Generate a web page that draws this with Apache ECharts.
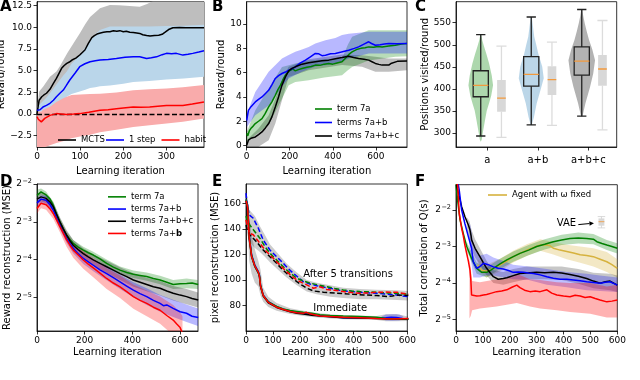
<!DOCTYPE html>
<html><head><meta charset="utf-8">
<script src="https://cdn.jsdelivr.net/npm/echarts@6/dist/echarts.min.js"></script>
<style>html,body{margin:0;padding:0;background:#fff}#c{width:640px;height:380px}</style>
</head><body><div id="c"></div>
<script>
// ---------------- DATA ----------------
// Panel A  (learning iteration, reward/round)
const aMcts = [[0,0],[3,1.0],[5,1.6],[11,2.0],[16,2.2],[22,2.4],[30,2.85],[38,3.54],[45,4.12],[51,4.7],[57,5.27],[63,5.6],[69,5.85],[75,6.0],[81,6.23],[90,6.45],[99,6.81],[105,7.1],[111,7.39],[119,8.16],[127,8.81],[133,9.05],[139,9.23],[147,9.35],[154,9.43],[162,9.5],[169,9.5],[177,9.6],[185,9.55],[192,9.62],[200,9.5],[207,9.55],[215,9.43],[223,9.4],[231,9.35],[238,9.3],[245,9.15],[254,9.05],[262,9.0],[272,9.05],[282,9.1],[290,9.2],[297,9.45],[305,9.75],[315,9.96],[330,9.97],[345,9.96],[360,9.96],[375,9.96],[387,9.96]];
const aStep = [[0,0.45],[7,0.5],[15,0.85],[22,1.0],[30,1.24],[38,1.6],[45,2.0],[53,2.4],[61,2.77],[68,3.3],[76,3.93],[88,4.7],[99,5.46],[111,5.8],[123,6.04],[135,6.15],[146,6.23],[165,6.3],[184,6.4],[204,6.55],[223,6.62],[238,6.62],[254,6.42],[265,6.5],[277,6.6],[290,6.85],[300,7.0],[312,6.95],[323,7.0],[338,6.8],[350,6.9],[361,7.0],[375,7.15],[387,7.3]];
const aHabit = [[0,-0.3],[3,-0.6],[5,-0.75],[10,-0.9],[14,-0.8],[18,-0.5],[25,-0.3],[30,-0.15],[45,0.05],[55,0.02],[69,-0.05],[85,0.0],[99,0.05],[120,0.2],[146,0.43],[165,0.5],[184,0.62],[200,0.7],[223,0.81],[240,0.78],[261,0.8],[280,0.9],[300,1.0],[320,0.98],[338,1.0],[360,1.15],[387,1.4]];
const aMctsBand = [[0,-0.5,0.5],[5,0.3,2.6],[15,0.6,3.2],[30,1.0,4.3],[45,1.5,4.9],[53,2.0,5.5],[70,2.8,7.0],[85,3.4,8.2],[99,4.0,9.3],[112,5.0,10.4],[123,5.6,11.2],[146,6.2,12.2],[169,6.4,12.58],[190,6.5,12.55],[215,6.4,12.47],[238,6.3,12.38],[255,6.2,12.7],[275,6.2,13.2],[300,6.5,13.5],[387,7.0,13.5]];
const aStepBand = [[0,0.2,0.8],[10,0.3,1.3],[20,0.2,1.8],[30,0.0,2.4],[45,0.5,3.4],[60,1.4,4.4],[69,2.0,4.9],[80,2.3,5.8],[99,2.6,6.8],[112,2.8,7.7],[123,3.0,8.5],[135,3.1,9.2],[146,3.2,9.7],[169,3.3,10.1],[200,3.5,10.1],[223,3.7,10.1],[260,3.8,10.1],[300,4.0,10.15],[340,4.1,10.2],[387,4.3,10.3]];
const aHabitBand = [[0,-4,0.2],[10,-4,0.3],[14,-3.9,0.5],[30,-3.6,0.85],[45,-3.35,1.4],[60,-3.15,1.8],[69,-3.0,2.0],[80,-2.8,2.2],[100,-2.6,2.25],[123,-2.4,2.3],[146,-2.1,2.35],[184,-1.8,2.5],[223,-1.5,2.75],[261,-1.3,2.85],[300,-1.1,2.95],[338,-0.9,3.1],[387,-0.5,3.35]];
const aTicksX = [0,100,200,300];
const aTicksY = [-2.5,0,2.5,5,7.5,10,12.5];

// Panel B
const bGreen = [[0,1.0],[5,0.8],[12,1.2],[19,1.4],[30,1.6],[40,1.81],[55,2.0],[71,2.22],[85,2.6],[102,3.18],[117,3.6],[133,4.14],[145,4.6],[157,4.97],[168,5.4],[180,5.79],[192,6.05],[203,6.2],[214,6.3],[226,6.15],[240,6.25],[257,6.34],[280,6.45],[300,6.5],[319,6.62],[340,6.6],[360,6.7],[381,6.76],[400,6.7],[420,6.8],[443,6.89],[460,7.2],[475,7.5],[490,7.71],[510,7.9],[530,8.0],[550,8.05],[567,8.12],[590,8.1],[610,8.15],[629,8.12],[660,8.2],[691,8.26],[720,8.35],[745,8.4]];
const bBlue = [[0,2.08],[8,2.9],[20,3.2],[40,3.59],[55,3.8],[71,4.0],[85,4.25],[102,4.55],[117,5.0],[133,5.52],[148,5.75],[164,5.93],[180,6.05],[195,6.2],[210,6.3],[226,6.48],[250,6.8],[273,7.03],[296,7.3],[319,7.58],[335,7.55],[350,7.4],[366,7.44],[390,7.55],[412,7.58],[440,7.7],[474,7.85],[500,8.0],[520,8.12],[545,8.35],[567,8.54],[580,8.4],[598,8.26],[620,8.3],[640,8.35],[660,8.4],[700,8.38],[745,8.4]];
const bBlack = [[0,0.02],[8,0.44],[20,0.6],[40,0.71],[55,0.9],[71,1.12],[87,1.45],[102,1.81],[117,2.36],[133,3.18],[148,4.0],[164,4.97],[180,5.65],[195,6.14],[210,6.35],[226,6.48],[257,6.7],[288,6.82],[319,6.9],[350,6.98],[381,7.03],[412,7.15],[443,7.24],[474,7.35],[497,7.25],[520,7.17],[545,7.1],[567,7.03],[582,6.9],[598,6.76],[614,6.68],[629,6.62],[660,6.62],[670,6.75],[676,6.9],[700,6.93],[745,6.95]];
const bGreenBand = [[0,0.3,1.1],[40,0.86,2.9],[102,1.68,4.7],[133,2.77,5.6],[164,3.86,6.47],[195,4.97,6.6],[226,5.24,6.75],[288,5.38,7.0],[360,5.6,7.1],[443,5.79,7.17],[470,6.2,8.3],[490,6.47,8.95],[567,7.0,9.5],[691,7.3,9.5],[745,7.35,9.5]];
const bBlueBand = [[0,1.5,2.6],[40,2.5,4.4],[102,3.3,6.07],[164,4.84,7.17],[195,5.52,7.45],[226,5.8,7.72],[257,6.07,7.9],[288,6.3,8.12],[319,6.5,8.4],[366,6.6,8.67],[412,6.76,8.85],[443,6.9,9.09],[474,7.17,9.2],[567,7.58,9.36],[660,7.58,9.36],[745,7.58,9.36]];
const bBlackBand = [[0,-0.1,0.44],[55,-0.1,1.4],[102,0.44,2.5],[133,1.81,3.86],[164,3.73,5.4],[195,5.65,6.48],[288,6.2,7.1],[443,6.62,7.5],[536,6.48,7.44],[598,6.07,7.3],[660,6.07,7.17],[745,6.2,7.17]];
const bTicksX = [0,200,400,600];
const bTicksY = [0,2,4,6,8,10];

// Panel C  (box: min, Q1, median, Q3, max)
const cCats = ['a','a+b','a+b+c'];
const cBox = [[293,382,408,441,523],[318,406,433,473,563],[338,431,463,495,580]];
const cGrayBox = [[290,348,379,420,497],[317,386,421,451,506],[307,407,445,477,555]];
const cViolinA = [[280,0],[285,1],[300,2],[329,4.3],[350,6],[367,8.3],[385,10.5],[408,12.3],[430,11],[458,8.3],[480,5.5],[496,3.3],[510,1.5],[522,0.5]];
const cViolinAB = [[317,0],[320,0.8],[336,2.7],[367,5.5],[395,9],[424,12.5],[450,11],[480,7],[500,5],[518,3],[540,1.8],[563,0.5]];
const cViolinABC = [[337,0],[340,1],[367,3.7],[404,8.3],[435,11.5],[465,13.3],[490,10.5],[511,7.3],[530,5],[549,3],[565,1.5],[580,0.5]];
const cTicksY = [300,350,400,450,500,550];

// Panel D  (log2 of reward reconstruction MSE)
const dGreen = [[0,-2.3],[3,-2.25],[17,-2.21],[38,-2.29],[55,-2.4],[68,-2.56],[82,-2.8],[96,-3.0],[110,-3.2],[124,-3.35],[138,-3.47],[152,-3.57],[173,-3.67],[194,-3.75],[215,-3.82],[236,-3.88],[264,-3.98],[292,-4.1],[320,-4.2],[348,-4.28],[376,-4.34],[404,-4.39],[432,-4.42],[460,-4.45],[488,-4.5],[516,-4.54],[544,-4.6],[571,-4.66],[600,-4.64],[627,-4.63],[650,-4.62],[676,-4.66]];
const dBlue = [[0,-2.5],[3,-2.47],[17,-2.40],[38,-2.43],[55,-2.55],[68,-2.69],[82,-2.9],[96,-3.09],[110,-3.28],[124,-3.44],[138,-3.58],[152,-3.7],[173,-3.85],[194,-3.97],[215,-4.06],[236,-4.15],[264,-4.27],[292,-4.37],[320,-4.48],[348,-4.59],[376,-4.7],[404,-4.81],[432,-4.9],[460,-4.98],[488,-5.08],[516,-5.16],[530,-5.22],[544,-5.2],[571,-5.29],[600,-5.38],[627,-5.42],[650,-5.5],[676,-5.53]];
const dBlack = [[0,-2.4],[3,-2.38],[17,-2.34],[38,-2.38],[55,-2.48],[68,-2.6],[82,-2.8],[96,-3.0],[110,-3.18],[124,-3.35],[138,-3.5],[152,-3.62],[173,-3.74],[194,-3.84],[215,-3.93],[236,-4.01],[264,-4.1],[292,-4.19],[320,-4.28],[348,-4.37],[376,-4.45],[404,-4.54],[432,-4.6],[460,-4.66],[488,-4.72],[516,-4.76],[544,-4.83],[571,-4.89],[600,-4.94],[627,-4.98],[650,-5.03],[676,-5.07]];
const dRed = [[0,-2.65],[3,-2.6],[17,-2.51],[38,-2.55],[55,-2.66],[68,-2.78],[82,-2.95],[96,-3.13],[110,-3.3],[124,-3.48],[138,-3.62],[152,-3.75],[173,-3.88],[194,-4.01],[215,-4.12],[236,-4.22],[264,-4.36],[292,-4.5],[320,-4.62],[348,-4.72],[376,-4.85],[404,-4.98],[432,-5.08],[460,-5.16],[488,-5.26],[516,-5.34],[544,-5.48],[571,-5.6],[585,-5.7],[600,-5.8],[610,-5.95]];
const dGreenBand = [[0,-2.4,-2.15],[17,-2.3,-2.12],[38,-2.38,-2.2],[68,-2.66,-2.46],[96,-3.1,-2.9],[124,-3.44,-3.26],[152,-3.66,-3.48],[194,-3.84,-3.66],[236,-3.97,-3.79],[292,-4.2,-4.0],[348,-4.38,-4.18],[404,-4.49,-4.29],[460,-4.56,-4.34],[516,-4.65,-4.43],[571,-4.78,-4.54],[627,-4.76,-4.5],[676,-4.78,-4.54]];
const dBlackBand = [[0,-2.52,-2.28],[17,-2.46,-2.22],[38,-2.5,-2.26],[68,-2.72,-2.48],[96,-3.12,-2.88],[124,-3.48,-3.22],[152,-3.76,-3.48],[194,-3.98,-3.7],[236,-4.16,-3.86],[292,-4.35,-4.03],[348,-4.54,-4.2],[404,-4.72,-4.36],[460,-4.84,-4.48],[516,-4.95,-4.57],[571,-5.08,-4.7],[627,-5.18,-4.78],[676,-5.27,-4.87]];
const dBlueBand = [[0,-2.6,-2.4],[17,-2.5,-2.3],[38,-2.54,-2.32],[68,-2.8,-2.58],[96,-3.2,-2.98],[124,-3.56,-3.32],[152,-3.84,-3.56],[194,-4.12,-3.82],[236,-4.31,-3.99],[292,-4.55,-4.19],[348,-4.78,-4.4],[404,-5.0,-4.6],[460,-5.2,-4.76],[516,-5.38,-4.94],[571,-5.52,-5.06],[627,-5.65,-5.19],[676,-5.76,-5.3]];
const dRedBand = [[0,-2.78,-2.52],[17,-2.64,-2.38],[38,-2.68,-2.42],[68,-2.92,-2.64],[96,-3.28,-2.98],[124,-3.66,-3.3],[152,-3.95,-3.55],[194,-4.24,-3.78],[236,-4.47,-3.97],[292,-4.78,-4.22],[348,-5.02,-4.42],[404,-5.3,-4.66],[460,-5.5,-4.82],[516,-5.7,-4.98],[571,-6.0,-5.2],[600,-6.2,-5.4],[610,-6.2,-5.5]];
const dTicksX = [0,200,400,600];
const dTicksY = [-5,-4,-3,-2];

// Panel E  (pixel reconstruction MSE)
const eBlue = [[0,163],[6,158.7],[12,135],[21,119.6],[33,111.8],[46,106.6],[50,104],[54,96.2],[64,88.4],[83,83.1],[114,79.2],[139,77.3],[164,75.8],[189,74.8],[213,74],[244,73],[275,72.2],[313,71.5],[362,70.6],[424,70.4],[486,70.2],[520,70.6],[540,71],[560,70.8],[580,70],[604,69.4]];
const eGreen = [[0,163],[6,158],[12,134],[21,119],[33,111],[46,106],[50,103.5],[54,96],[64,88],[83,83],[114,79.4],[139,77.5],[164,76.2],[189,75.5],[213,74.8],[244,74],[275,73],[313,72.4],[362,72],[424,71.6],[486,71],[520,70],[560,69.8],[604,69.8]];
const eRed = [[0,162],[6,157],[12,133],[21,118.5],[33,111],[46,106],[50,103],[54,95.5],[64,88],[83,82.6],[114,78.8],[139,77],[164,75.5],[189,74.5],[213,74],[225,74.8],[238,73.6],[275,72],[313,71.5],[362,71],[424,70.6],[486,70],[540,69.6],[604,70]];
const eBlack = [[0,162],[6,156],[12,132],[21,118],[33,110.5],[46,105.5],[50,102.5],[54,95],[64,87.5],[83,82.3],[114,78.6],[139,76.7],[164,75.2],[189,74.1],[213,73.4],[244,72.6],[275,72],[313,71.4],[362,70.6],[424,70.3],[486,70],[540,69.6],[604,69.3]];
const eBlueD = [[0,168],[3,161.3],[12,150.9],[27,148.3],[46,140.5],[64,131.3],[89,123.5],[114,118.3],[139,113.1],[157,109],[176,105.3],[195,102],[213,98.8],[238,97],[263,95.6],[288,94.5],[313,93.6],[338,92.5],[362,91.5],[393,91],[424,90.5],[455,90],[486,89.7],[520,89],[561,88.4],[580,87.6],[604,87]];
const eGreenD = [[0,150],[3,148],[14,143],[33,137.8],[52,132.6],[71,126.1],[89,121],[114,115.7],[132,111.8],[151,108],[170,104.6],[189,101.5],[213,99.3],[238,97.6],[270,96.2],[300,94.9],[330,93.5],[362,92.3],[393,91.5],[424,91],[455,90.8],[486,90.5],[520,90],[561,89.7],[604,88.9]];
const eRedD = [[0,147],[3,144],[14,136.6],[27,135.4],[52,128.7],[71,123.5],[89,119.6],[114,114.4],[132,110.5],[151,106.6],[170,103.2],[189,100.1],[208,98],[226,96.2],[238,95],[251,93.6],[263,94.2],[275,94.8],[288,93.8],[300,92.6],[330,92],[362,91],[393,90.2],[424,89.7],[455,90],[486,90.5],[520,90.6],[561,90.5],[604,88.9]];
const eBlackD = [[0,143],[3,140.5],[14,135.4],[39,130],[64,123.5],[89,118.3],[114,113.1],[132,109],[151,105.3],[170,101.8],[189,98.8],[208,96],[226,93.6],[251,91.5],[288,90.5],[338,89.7],[387,89],[437,88.4],[486,87.9],[524,87.1],[545,87.5],[561,88.4],[604,87.9]];
const eImmBand = [[0,140,168],[6,140,165],[12,115,150],[21,105,135],[33,98,124],[46,95,115],[54,88,108],[64,83,94],[83,79,87],[114,76,82],[164,73.5,78],[213,72,76],[275,70.5,74],[362,69.3,72.5],[486,68.8,72],[520,67.8,73.2],[560,67.8,73.5],[604,68,71.5]];
const eDashBand = [[0,140,168],[12,130,155],[33,125,150],[52,122,142],[71,118,135],[89,114,128],[114,109,122],[151,102,113],[189,96,106],[226,91,100],[263,89,98],[313,87,96],[362,86,94],[424,85,93],[486,85,92.5],[561,84.5,92],[604,84,91.5]];
const eBlueBand = [[505,69.5,71.5],[520,68.5,73],[545,68.3,73.2],[570,68.5,73],[585,69.3,71.8]];
const eTicksX = [0,100,200,300,400,500,600];
const eTicksY = [80,100,120,140,160];

// Panel F  (log2 of total correlation)
const fRed = [[0,-1.25],[6,-1.31],[12,-2.09],[21,-2.5],[27,-2.7],[33,-2.96],[40,-3.2],[46,-3.4],[52,-3.65],[55,-3.9],[58,-4.33],[64,-4.38],[77,-4.36],[89,-4.35],[102,-4.33],[114,-4.32],[132,-4.28],[151,-4.24],[170,-4.22],[189,-4.19],[208,-4.12],[226,-4.06],[238,-4.13],[255,-4.2],[275,-4.24],[295,-4.22],[313,-4.24],[338,-4.19],[356,-4.28],[375,-4.33],[400,-4.36],[424,-4.38],[443,-4.34],[462,-4.36],[480,-4.4],[499,-4.38],[518,-4.43],[536,-4.47],[561,-4.52],[580,-4.5],[600,-4.47]];
const fBlue = [[0,-1.0],[6,-1.2],[12,-1.45],[21,-2.0],[33,-2.37],[46,-2.73],[58,-3.05],[64,-3.42],[77,-3.6],[89,-3.55],[102,-3.46],[120,-3.5],[139,-3.56],[157,-3.6],[176,-3.62],[195,-3.66],[213,-3.71],[232,-3.7],[251,-3.71],[270,-3.73],[288,-3.74],[313,-3.78],[338,-3.83],[362,-3.87],[387,-3.9],[412,-3.9],[437,-3.92],[462,-3.94],[486,-3.97],[511,-3.99],[536,-4.01],[555,-3.98],[573,-3.97],[600,-4.06]];
const fBlack = [[0,-1.1],[3,-1.35],[12,-1.63],[21,-1.91],[33,-2.18],[46,-2.41],[52,-2.55],[56,-2.7],[58,-2.82],[71,-3.05],[89,-3.28],[102,-3.45],[114,-3.6],[127,-3.72],[139,-3.83],[157,-3.9],[176,-3.88],[189,-3.86],[213,-3.8],[238,-3.74],[263,-3.73],[300,-3.71],[330,-3.72],[362,-3.71],[393,-3.73],[424,-3.77],[455,-3.82],[486,-3.88],[511,-3.95],[536,-4.01],[555,-3.97],[573,-3.95],[600,-4.06]];
const fGreen = [[0,-1.3],[6,-1.73],[15,-2.27],[27,-2.64],[40,-3.0],[58,-3.33],[77,-3.6],[96,-3.71],[114,-3.71],[127,-3.66],[139,-3.6],[164,-3.48],[189,-3.37],[213,-3.28],[238,-3.19],[270,-3.1],[300,-3.0],[330,-2.94],[362,-2.87],[393,-2.82],[424,-2.78],[455,-2.77],[486,-2.78],[511,-2.8],[524,-2.87],[543,-2.92],[561,-2.96],[580,-3.0],[600,-3.05]];
const fYellow = [[80,-3.5],[96,-3.65],[114,-3.68],[139,-3.6],[164,-3.51],[189,-3.4],[213,-3.28],[238,-3.19],[263,-3.1],[288,-3.03],[313,-2.96],[338,-2.96],[350,-2.98],[362,-3.05],[387,-3.1],[412,-3.14],[437,-3.18],[462,-3.23],[486,-3.25],[511,-3.28],[536,-3.35],[561,-3.42],[580,-3.5],[600,-3.6]];
const fRedBand = [[50,-4.98,-3.3],[55,-4.9,-3.6],[60,-4.75,-3.95],[89,-4.7,-3.98],[151,-4.65,-3.9],[189,-4.6,-3.85],[226,-4.55,-3.75],[275,-4.65,-3.9],[313,-4.7,-3.92],[375,-4.75,-3.98],[424,-4.8,-4.0],[499,-4.85,-4.0],[561,-4.95,-4.1],[600,-4.95,-4.05]];
const fBlueBand = [[50,-3.2,-2.3],[58,-3.5,-2.6],[64,-3.85,-3.0],[89,-3.85,-3.25],[114,-3.8,-3.2],[139,-3.8,-3.3],[176,-3.85,-3.4],[213,-3.9,-3.5],[270,-3.92,-3.55],[338,-4.05,-3.62],[412,-4.12,-3.7],[486,-4.2,-3.75],[536,-4.22,-3.8],[600,-4.25,-3.85]];
const fBlackBand = [[40,-2.6,-2.2],[50,-2.8,-2.3],[58,-3.1,-2.55],[71,-3.3,-2.8],[89,-3.5,-3.05],[114,-3.8,-3.4],[139,-4.0,-3.65],[176,-4.05,-3.7],[213,-3.98,-3.62],[263,-3.9,-3.55],[330,-3.9,-3.55],[393,-3.92,-3.55],[455,-4.02,-3.62],[511,-4.15,-3.72],[573,-4.2,-3.75],[600,-4.25,-3.8]];
const fGreenBand = [[40,-3.12,-2.88],[77,-3.75,-3.45],[114,-3.85,-3.57],[164,-3.62,-3.34],[213,-3.42,-3.14],[270,-3.24,-2.96],[330,-3.08,-2.8],[393,-2.96,-2.68],[455,-2.92,-2.62],[511,-2.94,-2.66],[561,-3.1,-2.82],[600,-3.19,-2.91]];
const fYellowBand = [[80,-3.65,-3.35],[114,-3.85,-3.5],[164,-3.68,-3.34],[213,-3.44,-3.12],[263,-3.26,-2.94],[313,-3.12,-2.8],[362,-3.22,-2.88],[412,-3.35,-2.95],[462,-3.45,-3.0],[511,-3.55,-3.05],[561,-3.7,-3.15],[600,-3.85,-3.35]];
const fVaeBox = [541,[-2.49,-2.43,-2.32,-2.23,-2.18]];
const fTicksX = [0,100,200,300,400,500,600];
const fTicksY = [-5,-4,-3,-2];

// ---------------- RENDER ----------------
const FF = 'DejaVu Sans';
const chart = echarts.init(document.getElementById('c'), null, {renderer:'canvas'});

const grids = [
  {left:37, top:1.7, width:167, height:145.3},
  {left:246.7, top:1.7, width:160.3, height:145.3},
  {left:456, top:1.7, width:160.7, height:145.3},
  {left:37, top:184, width:161, height:147},
  {left:246, top:184, width:161.3, height:147},
  {left:456, top:184.7, width:161.3, height:146.3}
].map(g => Object.assign({show:true, borderColor:'#000', borderWidth:0.8, backgroundColor:'transparent', containLabel:false, outerBoundsMode:'none'}, g));

function numFmt(d){ return v => (d ? v.toFixed(d) : String(v)).replace('-', '\u2212'); }
const logFmt = v => '{b|2}{s|\u2212' + Math.round(-v) + '}';
const logRich = {b:{fontSize:9, color:'#000', fontFamily:FF, lineHeight:12, verticalAlign:'middle'}, s:{fontSize:6.5, color:'#000', fontFamily:FF, lineHeight:12, verticalAlign:'top', padding:[0,0,0,0.5]}};

function axis(gi, min, max, ticks, fmt, name, nameGap, extra) {
  const lab = {show:true, customValues:ticks, formatter:fmt, fontSize:9, color:'#000', fontFamily:FF, margin:5};
  if (extra && extra.rich) lab.rich = extra.rich;
  if (extra && extra.fontSize) lab.fontSize = extra.fontSize;
  if (extra && extra.margin) lab.margin = extra.margin;
  return {
    type:'value', gridIndex:gi, min:min, max:max, scale:true,
    name:name, nameLocation:'middle', nameGap:nameGap,
    nameTextStyle:{fontSize:(extra && extra.nameSize) || 10, color:'#000', fontFamily:FF},
    axisLine:{show:true, onZero:false, lineStyle:{color:'#000', width:0.8}},
    axisTick:{show:true, length:3.5, customValues:ticks, lineStyle:{color:'#000', width:0.8}},
    axisLabel:lab,
    splitLine:{show:false}
  };
}

const xAxes = [
  axis(0, 0, 387, aTicksX, numFmt(0), 'Learning iteration', 19),
  axis(1, 0, 745, bTicksX, numFmt(0), 'Learning iteration', 19),
  axis(2, -0.62, 2.562, [0,1,2], v => cCats[Math.round(v)], '', 0, {fontSize:10, margin:8}),
  axis(3, 0, 675, dTicksX, numFmt(0), 'Learning iteration', 16),
  axis(4, 0, 600, eTicksX, numFmt(0), 'Learning iteration', 16),
  axis(5, 0, 600, fTicksX, numFmt(0), 'Learning iteration', 16)
];
const yAxes = [
  axis(0, -3.8, 12.96, aTicksY, numFmt(1), 'Reward/round', 25),
  axis(1, -0.12, 11.84, bTicksY, numFmt(0), 'Reward/round', 19),
  axis(2, 268, 597.7, cTicksY, numFmt(0), 'Positions visited/round', 23),
  axis(3, -5.89, -2.0, dTicksY, logFmt, 'Reward reconstruction (MSE)', 23, {rich:logRich}),
  axis(4, 60.2, 175.1, eTicksY, numFmt(0), 'pixel reconstruction (MSE)', 26),
  axis(5, -5.32, -1.305, fTicksY, logFmt, 'Total correlation of Q(s)', 27, {rich:logRich})
];

const series = [];
function band(gi, data, color, z) {
  series.push({
    type:'custom', xAxisIndex:gi, yAxisIndex:gi, clip:true, silent:true, z:z || 1,
    data:[[data[0][0], data[0][1]]], encode:{x:0, y:1},
    renderItem:(p, api) => {
      const up = data.map(d => api.coord([d[0], d[2]]));
      const lo = data.slice().reverse().map(d => api.coord([d[0], d[1]]));
      return {type:'polygon', shape:{points:up.concat(lo)}, style:{fill:color}};
    }
  });
}
function line(gi, name, data, color, width, z, dash) {
  series.push({
    type:'line', name:name, xAxisIndex:gi, yAxisIndex:gi, data:data, color:color,
    showSymbol:false, symbol:'none', silent:true, z:z || 5, clip:true,
    lineStyle:{color:color, width:width || 1.5, type:dash || 'solid'}, itemStyle:{color:color}
  });
  return series[series.length - 1];
}
function text(gi, x, y, txt, size) {
  series.push({
    type:'custom', xAxisIndex:gi, yAxisIndex:gi, silent:true, z:20, data:[[x, y]], encode:{x:0, y:1},
    renderItem:(p, api) => {
      const c = api.coord([api.value(0), api.value(1)]);
      return {type:'text', x:c[0], y:c[1], style:{text:txt, fontSize:size, fontFamily:FF, fill:'#000', align:'left', verticalAlign:'middle', textAlign:'left', textVerticalAlign:'middle'}};
    }
  });
}

// Panel A
band(0, aMctsBand, '#bebebe', 1);
band(0, aStepBand, '#bad6ea', 2);
band(0, aHabitBand, '#f9abab', 3);
const mcts = line(0, 'MCTS', aMcts, '#000000', 1.5, 6);
mcts.markLine = {silent:true, symbol:'none', animation:false, label:{show:false}, lineStyle:{color:'#000', width:1.4, type:[5,2.5]}, data:[{yAxis:0}]};
line(0, '1 step', aStep, '#0000ff', 1.5, 7);
line(0, 'habit', aHabit, '#ff0000', 1.5, 8);

// Panel B
band(1, bBlackBand, 'rgba(0,0,0,0.25)', 1);
band(1, bGreenBand, 'rgba(0,128,0,0.28)', 2);
band(1, bBlueBand, 'rgba(0,0,255,0.28)', 3);
line(1, 'term 7a', bGreen, '#008000', 1.5, 6);
line(1, 'terms 7a+b', bBlue, '#0000ff', 1.5, 7);
line(1, 'terms 7a+b+c', bBlack, '#000000', 1.5, 8);

// Panel C
const C_MAIN = -0.13, C_GRAY = 0.28, C_UNIT = 1 / 50.5;
const violins = [[cViolinA, 'rgba(60,160,60,0.42)'], [cViolinAB, 'rgba(31,119,180,0.3)'], [cViolinABC, 'rgba(0,0,0,0.3)']];
violins.forEach((vv, i) => {
  series.push({
    type:'custom', xAxisIndex:2, yAxisIndex:2, silent:true, clip:true, z:2,
    data:[[i, vv[0][0][0]]], encode:{x:0, y:1},
    renderItem:(p, api) => {
      const xc = i + C_MAIN;
      const right = vv[0].map(d => api.coord([xc + d[1] * C_UNIT, d[0]]));
      const left = vv[0].slice().reverse().map(d => api.coord([xc - d[1] * C_UNIT, d[0]]));
      return {type:'polygon', shape:{points:right.concat(left)}, style:{fill:vv[1]}};
    }
  });
});
function boxSeries(boxes, off, hw, cw, stroke, fill, wcol, z) {
  series.push({
    type:'custom', xAxisIndex:2, yAxisIndex:2, silent:true, clip:true, z:z,
    data:boxes.map((b, i) => [i].concat(b)), encode:{x:0, y:3},
    renderItem:(p, api) => {
      const xc = api.value(0) + off;
      const mn = api.value(1), q1 = api.value(2), md = api.value(3), q3 = api.value(4), mx = api.value(5);
      const P = (x, y) => api.coord([x, y]);
      const seg = (a, b, col, w) => ({type:'line', shape:{x1:a[0], y1:a[1], x2:b[0], y2:b[1]}, style:{stroke:col, lineWidth:w}});
      const tl = P(xc - hw, q3), br = P(xc + hw, q1);
      return {type:'group', children:[
        seg(P(xc, mn), P(xc, q1), wcol, 1.3),
        seg(P(xc, q3), P(xc, mx), wcol, 1.3),
        seg(P(xc - cw, mn), P(xc + cw, mn), wcol, 1.3),
        seg(P(xc - cw, mx), P(xc + cw, mx), wcol, 1.3),
        {type:'rect', shape:{x:tl[0], y:tl[1], width:br[0] - tl[0], height:br[1] - tl[1]}, style:{fill:fill, stroke:stroke, lineWidth:1.3}},
        seg(P(xc - hw, md), P(xc + hw, md), '#f39a3c', 1.3)
      ]};
    }
  });
}
boxSeries(cBox, C_MAIN, 0.15, 0.092, '#222', 'rgba(255,255,255,0)', '#222', 5);
boxSeries(cGrayBox, C_GRAY, 0.086, 0.1, 'rgba(0,0,0,0)', '#d8d8d8', '#dcdcdc', 4);

// Panel D
band(3, dGreenBand, 'rgba(0,128,0,0.28)', 1);
band(3, dBlackBand, 'rgba(0,0,0,0.25)', 1);
band(3, dBlueBand, 'rgba(0,0,255,0.28)', 1);
band(3, dRedBand, 'rgba(255,0,0,0.28)', 1);
line(3, 'term 7a', dGreen, '#008000', 1.5, 6);
line(3, 'terms 7a+b', dBlue, '#0000ff', 1.5, 7);
line(3, 'terms 7a+b+c', dBlack, '#000000', 1.5, 8);
line(3, 'terms 7a+b*', dRed, '#ff0000', 1.5, 9);

// Panel E
band(4, eDashBand, 'rgba(0,0,0,0.2)', 1);
band(4, eImmBand, 'rgba(0,0,0,0.2)', 1);
band(4, eBlueBand, 'rgba(0,0,255,0.25)', 2);
line(4, 'e-blue', eBlue, '#0000ff', 1.5, 6);
line(4, 'e-black', eBlack, '#000000', 1.5, 7);
line(4, 'e-green', eGreen, '#008000', 1.5, 8);
line(4, 'e-red', eRed, '#ff0000', 1.5, 9);
line(4, 'e-blueD', eBlueD, '#0000ff', 1.5, 6, [5,2.5]);
line(4, 'e-greenD', eGreenD, '#008000', 1.5, 7, [5,2.5]);
line(4, 'e-blackD', eBlackD, '#000000', 1.5, 8, [5,2.5]);
line(4, 'e-redD', eRedD, '#ff0000', 1.5, 9, [5,2.5]);
text(4, 213, 104.8, 'After 5 transitions', 10);
text(4, 250, 78, 'Immediate', 10);

// Panel F
band(5, fYellowBand, 'rgba(214,178,62,0.3)', 1);
band(5, fGreenBand, 'rgba(0,128,0,0.28)', 1);
band(5, fBlackBand, 'rgba(0,0,0,0.22)', 1);
band(5, fBlueBand, 'rgba(0,0,255,0.25)', 1);
band(5, fRedBand, 'rgba(255,0,0,0.3)', 1);
line(5, 'Agent with \u03c9 fixed', fYellow, '#d6b23e', 1.5, 6);
line(5, 'f-green', fGreen, '#008000', 1.5, 7);
line(5, 'f-black', fBlack, '#000000', 1.5, 8);
line(5, 'f-blue', fBlue, '#0000ff', 1.5, 9);
line(5, 'f-red', fRed, '#ff0000', 1.5, 10);
text(5, 374.6, -2.365, 'VAE', 10);
series.push({
  type:'custom', xAxisIndex:5, yAxisIndex:5, silent:true, z:20, data:[[455, -2.40, 513, -2.36]], encode:{x:0, y:1},
  renderItem:(p, api) => {
    const a = api.coord([api.value(0), api.value(1)]), b = api.coord([api.value(2), api.value(3)]);
    const ang = Math.atan2(b[1] - a[1], b[0] - a[0]), L = 4.5, W = 2.2;
    const bx = b[0] - L * Math.cos(ang), by = b[1] - L * Math.sin(ang);
    return {type:'group', children:[
      {type:'line', shape:{x1:a[0], y1:a[1], x2:bx, y2:by}, style:{stroke:'#000', lineWidth:1}},
      {type:'polygon', shape:{points:[[b[0], b[1]], [bx - W * Math.sin(ang), by + W * Math.cos(ang)], [bx + W * Math.sin(ang), by - W * Math.cos(ang)]]}, style:{fill:'#000'}}
    ]};
  }
});
series.push({
  type:'custom', xAxisIndex:5, yAxisIndex:5, silent:true, z:20, data:[[fVaeBox[0]].concat(fVaeBox[1])], encode:{x:0, y:3},
  renderItem:(p, api) => {
    const xc = api.value(0), hw = 11, cw = 14;
    const P = (x, y) => api.coord([x, y]);
    const seg = (a, b, col) => ({type:'line', shape:{x1:a[0], y1:a[1], x2:b[0], y2:b[1]}, style:{stroke:col, lineWidth:0.8}});
    const tl = P(xc - hw, api.value(4)), br = P(xc + hw, api.value(2));
    return {type:'group', children:[
      seg(P(xc, api.value(1)), P(xc, api.value(5)), '#cfcfcf'),
      seg(P(xc - cw, api.value(1)), P(xc + cw, api.value(1)), '#cfcfcf'),
      seg(P(xc - cw, api.value(5)), P(xc + cw, api.value(5)), '#cfcfcf'),
      {type:'rect', shape:{x:tl[0], y:tl[1], width:br[0] - tl[0], height:br[1] - tl[1]}, style:{fill:'#d8d8d8'}},
      seg(P(xc - hw, api.value(3)), P(xc + hw, api.value(3)), '#f39a3c')
    ]};
  }
});

const legBase = {icon:'rect', itemWidth:18, itemHeight:1.6, selectedMode:false, padding:0, textStyle:{fontSize:8.5, color:'#000', fontFamily:FF}};
const legends = [
  Object.assign({}, legBase, {data:['MCTS'], left:58, top:135.5}),
  Object.assign({}, legBase, {data:['1 step'], left:106, top:135.5}),
  Object.assign({}, legBase, {data:['habit'], left:161.5, top:135.5}),
  Object.assign({}, legBase, {data:['term 7a','terms 7a+b','terms 7a+b+c'], orient:'vertical', left:315, top:103.5, itemWidth:17, itemGap:2.5, textStyle:{fontSize:8.5, color:'#000', fontFamily:FF, lineHeight:11}}),
  Object.assign({}, legBase, {data:['term 7a','terms 7a+b','terms 7a+b+c','terms 7a+b*'], orient:'vertical', left:108, top:191.5, itemWidth:18, itemGap:1.5,
    formatter: n => n === 'terms 7a+b*' ? '{n|terms 7a+}{k|b}' : n,
    textStyle:{fontSize:8.5, color:'#000', fontFamily:FF, lineHeight:10.7, rich:{n:{fontSize:8.5, fontFamily:FF, color:'#000'}, k:{fontSize:8.5, fontFamily:FF, fontWeight:'bold', color:'#000'}}}}),
  Object.assign({}, legBase, {data:['Agent with \u03c9 fixed'], left:488, top:190.5, itemWidth:19})
];

const letters = [['A',0,-0.5],['B',212,-0.5],['C',415,-0.5],['D',0,174.5],['E',212,174.5],['F',415,174.5]].map(l => ({
  text:l[0], left:l[1], top:l[2], padding:0, textStyle:{fontSize:15, fontWeight:'bold', color:'#000', fontFamily:FF}
}));

chart.setOption({
  animation:false,
  textStyle:{fontFamily:FF},
  title:letters,
  grid:grids,
  xAxis:xAxes,
  yAxis:yAxes,
  legend:legends,
  series:series
});
</script></body></html>
